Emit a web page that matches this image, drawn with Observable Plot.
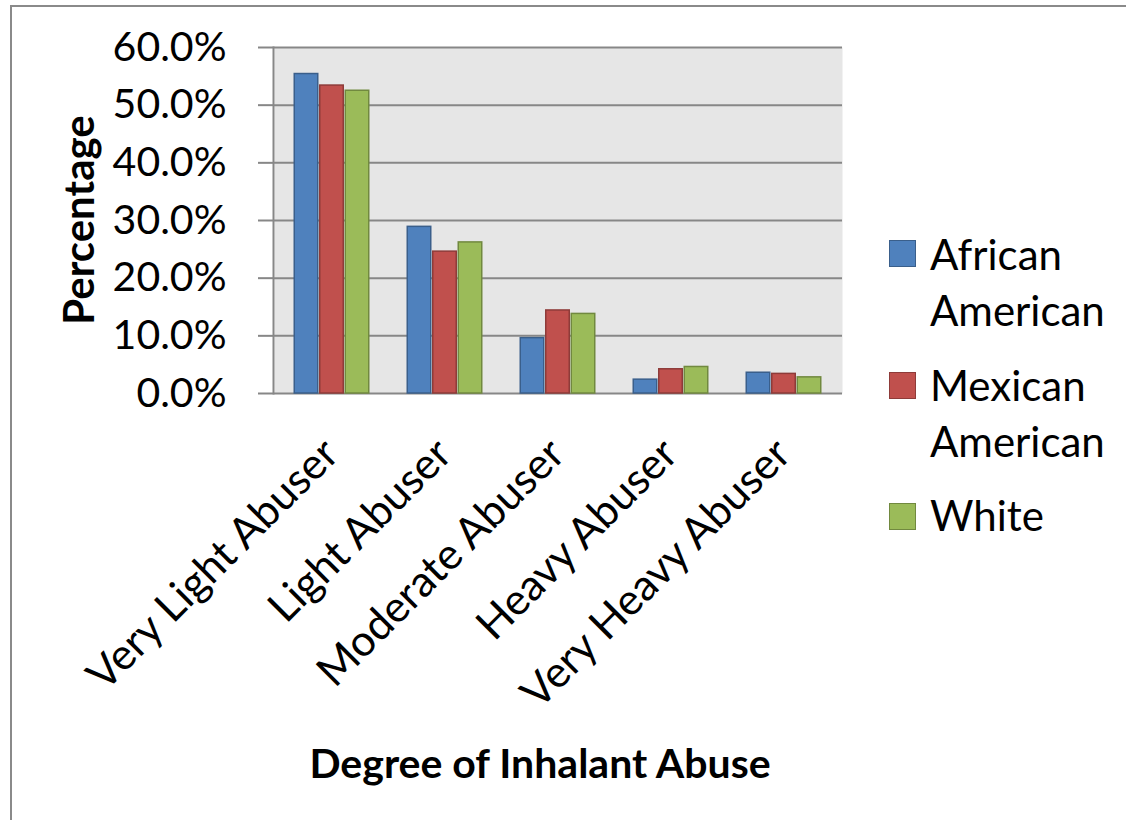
<!DOCTYPE html>
<html>
<head>
<meta charset="utf-8">
<script src="https://cdn.jsdelivr.net/npm/d3@7"></script>
<script src="https://cdn.jsdelivr.net/npm/@observablehq/plot@0.6"></script>
<style>
  html, body { margin: 0; padding: 0; background: #fff; }
  #wrap { position: relative; width: 1126px; height: 820px; overflow: hidden; font-family: Lato, "Open Sans", sans-serif; color: #000; }
  #chart { position: absolute; left: 0; top: 0; }
  .border-top { position: absolute; left: 10px; top: 5px; width: 1120px; height: 0; border-top: 2px solid #8a8a8a; }
  .border-left { position: absolute; left: 10px; top: 5px; width: 0; height: 820px; border-left: 2px solid #8a8a8a; }
  .ytitle { position: absolute; left: 78px; top: 220px; transform: translate(-50%, -50%) rotate(-90deg); font-weight: bold; font-size: 42px; white-space: nowrap; line-height: 1; }
  .xtitle { position: absolute; left: 540px; top: 762px; transform: translate(-50%, -50%); font-weight: bold; font-size: 41px; white-space: nowrap; line-height: 1; }
  .legend { position: absolute; left: 889px; top: 0; }
  .sw { position: absolute; width: 25px; height: 25px; border: 1.5px solid; }
  .lt { position: absolute; left: 41px; font-size: 42px; white-space: nowrap; line-height: 56px; }
</style>
</head>
<body>
<div id="wrap">
  <div id="chart"></div>
  <div class="border-top"></div>
  <div class="border-left"></div>
  <div class="ytitle">Percentage</div>
  <div class="xtitle">Degree of Inhalant Abuse</div>
  <div class="legend" id="legend"></div>
</div>
<script>
// ---- Data ----
const categories = ["Very Light Abuser", "Light Abuser", "Moderate Abuser", "Heavy Abuser", "Very Heavy Abuser"];
const seriesNames = ["African American", "Mexican American", "White"];
const africanAmerican = [55.4, 28.9, 9.6, 2.4, 3.6];
const mexicanAmerican = [53.4, 24.6, 14.4, 4.2, 3.4];
const white = [52.5, 26.2, 13.8, 4.6, 2.8];
const yTicks = [0, 10, 20, 30, 40, 50, 60];

const fills = ["#4f81bd", "#c0504d", "#9bbb59"];
const strokes = ["#3a5f8b", "#8e3b39", "#71893f"];
const seriesValues = [africanAmerican, mexicanAmerican, white];

const rows = [];
seriesValues.forEach((vals, s) => {
  vals.forEach((v, i) => rows.push({category: categories[i], series: seriesNames[s], value: v / 100, s}));
});

const barW = 25.5;
const pad = 1 - barW / 113.6;

const barMarks = seriesNames.map((name, s) =>
  Plot.barY(rows.filter(d => d.s === s), {
    x: "category", y: "value",
    fill: fills[s], stroke: strokes[s], strokeWidth: 1.5,
    dx: (s - 1) * barW, insetLeft: 0.75, insetRight: 0.75
  })
);

const chart = Plot.plot({
  width: 1126,
  height: 820,
  marginLeft: 274,
  marginRight: 284,
  marginTop: 47,
  marginBottom: 427,
  style: { fontFamily: "Lato, 'Open Sans', sans-serif", background: "transparent", overflow: "visible" },
  x: { domain: categories, paddingInner: pad, paddingOuter: pad / 2, axis: null },
  y: { domain: [0, 0.6], axis: null },
  marks: [
    Plot.frame({ fill: "#e6e6e6", stroke: null }),
    Plot.ruleY(yTicks.map(t => t / 100), { stroke: "#878787", strokeWidth: 2 }),
    ...barMarks,
    Plot.frame({ anchor: "left", stroke: "#878787", strokeWidth: 2, dx: -1 }),
    Plot.axisY(yTicks.map(t => t / 100), {
      tickSize: 16, tickPadding: 32, stroke: "#878787", strokeWidth: 2,
      tickFormat: d => d3.format(".1%")(d), fontSize: 41, fill: "#000", label: null
    }),
    Plot.text(categories, {
      x: d => d, frameAnchor: "bottom", rotate: -45, textAnchor: "end", lineAnchor: "bottom",
      dx: 9, dy: 63, fontSize: 43, fill: "#000"
    })
  ]
});
document.getElementById("chart").appendChild(chart);

// ---- Legend ----
const legendItems = [
  { label: ["African", "American"], sq: 240, base: 269 },
  { label: ["Mexican", "American"], sq: 372, base: 400 },
  { label: ["White"], sq: 503, base: 530 }
];
const leg = document.getElementById("legend");
legendItems.forEach((item, i) => {
  const sw = document.createElement("div");
  sw.className = "sw";
  sw.style.top = item.sq + "px";
  sw.style.left = "0px";
  sw.style.background = fills[i];
  sw.style.borderColor = strokes[i];
  leg.appendChild(sw);
  const t = document.createElement("div");
  t.className = "lt";
  t.style.top = (item.base - 43) + "px";
  t.innerHTML = item.label.join("<br>");
  leg.appendChild(t);
});
</script>
</body>
</html>
